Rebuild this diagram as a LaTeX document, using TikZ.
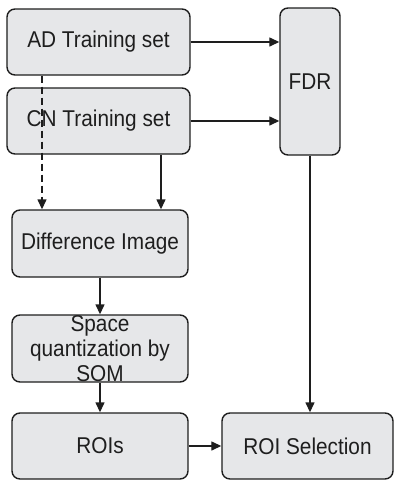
\documentclass[tikz,border=0pt]{standalone}
\usepackage{fontspec}
\setmainfont{Liberation Sans}[FakeStretch=0.91]
\usetikzlibrary{arrows.meta,positioning,calc}
\definecolor{boxfill}{RGB}{230,231,233}
\definecolor{ink}{RGB}{30,30,30}

\begin{document}
\begin{tikzpicture}[
    >={Triangle[length=2mm,width=1.8mm]}, font=\fontsize{13}{14.4}\selectfont,
    blk/.style={rectangle, rounded corners=1.6mm, draw=ink, fill=boxfill,
                line width=0.8pt, align=center, text=ink, inner sep=0pt},
    wide/.style={blk, minimum width=36.6mm, minimum height=13.2mm},
    mid/.style={blk, minimum width=35.2mm, minimum height=13.4mm},
    arr/.style={->, line width=0.8pt, draw=ink},
    dsh/.style={arr, dash pattern=on 1.4mm off 0.8mm},
  ]
    \useasboundingbox (0,0) rectangle (7.88,-9.6);

    \node[wide] (ad)   at (1.97,-0.84) {AD Training set};
    \node[wide] (cn)   at (1.97,-2.42) {CN Training set};
    \node[blk, minimum width=12mm, minimum height=29.4mm] (fdr) at (6.2,-1.63) {FDR};
    \node[mid]  (diff) at (2.0,-4.87)  {Difference Image};
    \node[mid]  (som)  at (2.0,-6.97)  {Space\\quantization by\\SOM};
    \node[mid, minimum height=13.2mm] (roi) at (2.0,-8.92) {ROIs};
    \node[blk, minimum width=34.2mm, minimum height=13.2mm] (sel) at (6.15,-8.92) {ROI Selection};

    \draw[arr] (ad.east) -- (ad.east -| fdr.west);
    \draw[arr] (cn.east) -- (cn.east -| fdr.west);
    \draw[dsh] ([xshift=-11.3mm]ad.south) -- ([xshift=-11.3mm]ad.south |- diff.north);
    \draw[arr] ([xshift=12.5mm]cn.south) -- ([xshift=12.5mm]cn.south |- diff.north);
    \draw[arr] (diff) -- (som);
    \draw[arr] (som) -- (roi);
    \draw[arr] (fdr.south) -- (fdr.south |- sel.north);
    \draw[arr] (roi) -- (sel);
  \end{tikzpicture}
\end{document}
